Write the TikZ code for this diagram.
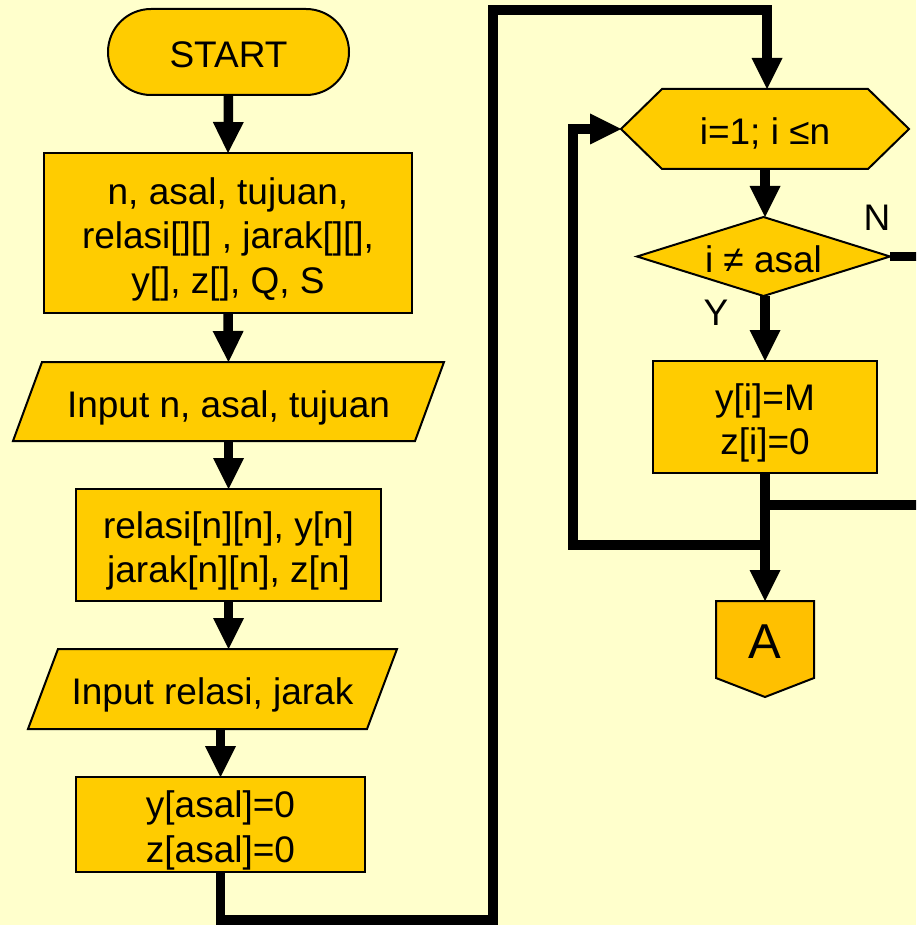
\documentclass[tikz,border=0pt]{standalone}
\usepackage{fontspec}
\setmainfont{Liberation Sans}
\usetikzlibrary{arrows.meta,calc}

\definecolor{paper}{HTML}{FFFFCC}
\definecolor{gold}{HTML}{FFCC00}
\definecolor{amber}{HTML}{FFC000}

\pgfdeclarelayer{paperlayer}
\pgfdeclarelayer{shapelayer}
\pgfsetlayers{paperlayer,shapelayer,main}

% struts for the 37pt face: ascent on the first line, descent on the last
\newcommand{\topstrut}{\rule{0pt}{39.2pt}}
\newcommand{\botstrut}{\rule[-7.8pt]{0pt}{7.8pt}}
\newcommand{\tblock}[1]{\topstrut#1\botstrut}

\tikzset{
  plain/.style={font=\fontsize{37pt}{44.5pt}\selectfont, align=center, inner sep=0pt, outer sep=0pt},
  boxsize/.style 2 args={minimum width=#1pt, minimum height=#2pt},
  shp/.style={fill=gold, draw=black, line width=2pt, line join=miter},
  wire/.style={line width=9.5pt, line join=miter},
  flow/.style={wire, -{Triangle[length=31pt,width=31pt,line width=0pt]}},
}

\begin{document}
\begin{tikzpicture}[x=1pt, y=-1pt]
  % sheet
  \begin{pgfonlayer}{paperlayer}
    \fill[paper] (0,0) rectangle (916,925);
  \end{pgfonlayer}
  \useasboundingbox (0,0) rectangle (916,925);
  \clip (0,0) rectangle (916,925);

  % left column
  \node[plain, boxsize={241}{86}]  (start) at (228.5,52)    {\tblock{START}};
  \node[plain, boxsize={368}{160}] (decl)  at (228,233)     {\tblock{n, asal, tujuan,\\relasi[][] , jarak[][],\\y[], z[], Q, S}};
  \node[plain, boxsize={431}{79}]  (in1)   at (228.5,401.5) {\tblock{Input n, asal, tujuan}};
  \node[plain, boxsize={305}{112}] (arr)   at (228.5,545)   {\tblock{relasi[n][n], y[n]\\jarak[n][n], z[n]}};
  \node[plain, boxsize={369}{80}]  (in2)   at (212.5,689)   {\tblock{Input relasi, jarak}};
  \node[plain, boxsize={289}{95}]  (init)  at (220.5,824.5) {\tblock{y[asal]=0\\z[asal]=0}};

  % right column
  \node[plain, boxsize={288}{80}]  (loop)  at (765,129)     {\tblock{i=1; i ≤n}};
  \node[plain, boxsize={253}{79}]  (cond)  at (763.5,256.5) {\tblock{i ≠ asal}};
  \node[plain, boxsize={224}{112}] (set)   at (765,417)     {\tblock{y[i]=M\\z[i]=0}};
  \node[plain, boxsize={98}{96}, text height=35pt, text depth=17pt,
        font=\fontsize{49pt}{58pt}\selectfont] (conn) at (765,649) {A};

  % branch labels
  \node[plain] (lblN) at (877,218) {N};
  \node[plain] (lblY) at (716,313) {Y};

  % outlines of the symbols
  \begin{pgfonlayer}{shapelayer}
    \draw[shp, rounded corners=43pt] (start.south west) rectangle (start.north east);
    \draw[shp] (decl.south west) rectangle (decl.north east);
    \draw[shp] ([xshift=29pt]in1.north west) -- (in1.north east)
               -- ([xshift=-29pt]in1.south east) -- (in1.south west) -- cycle;
    \draw[shp] (arr.south west) rectangle (arr.north east);
    \draw[shp] ([xshift=30pt]in2.north west) -- (in2.north east)
               -- ([xshift=-30pt]in2.south east) -- (in2.south west) -- cycle;
    \draw[shp] (init.south west) rectangle (init.north east);
    \draw[shp] (loop.west) -- ([xshift=41pt]loop.north west) -- ([xshift=-41pt]loop.north east)
               -- (loop.east) -- ([xshift=-41pt]loop.south east) -- ([xshift=41pt]loop.south west) -- cycle;
    \draw[shp] (cond.west) -- (cond.north) -- (cond.east) -- (cond.south) -- cycle;
    \draw[shp] (set.south west) rectangle (set.north east);
    \draw[shp, fill=amber] (conn.north west) -- (conn.north east)
               -- ([yshift=19pt]conn.south east) -- (conn.south)
               -- ([yshift=19pt]conn.south west) -- cycle;
  \end{pgfonlayer}

  % turning points of the long connectors
  \coordinate (lowturn) at (493,920);
  \coordinate (topturn) at (493,10);
  \coordinate (rightturn) at (935,505);
  \coordinate (back) at (573,545);

  % connectors
  \draw[flow] (start.south) -- (decl.north);
  \draw[flow] (decl.south) -- (in1.north);
  \draw[flow] (in1.south) -- (arr.north);
  \draw[flow] (arr.south) -- (arr.south |- in2.north);
  \draw[flow] (init.north |- in2.south) -- (init.north);
  \draw[flow] (init.south) |- (lowturn) -- (topturn) -| ([xshift=2pt]loop.north);
  \draw[flow] (loop.south) -- (loop.south |- cond.north);
  \draw[flow] (set.north |- cond.south) -- (set.north);
  \draw[wire] (cond.east) -| (rightturn) -- (set.south |- rightturn);
  \draw[flow] (set.south) -- (conn.north);
  \draw[flow] (set.south |- back) -- (back) |- (loop.west);
\end{tikzpicture}
\end{document}
